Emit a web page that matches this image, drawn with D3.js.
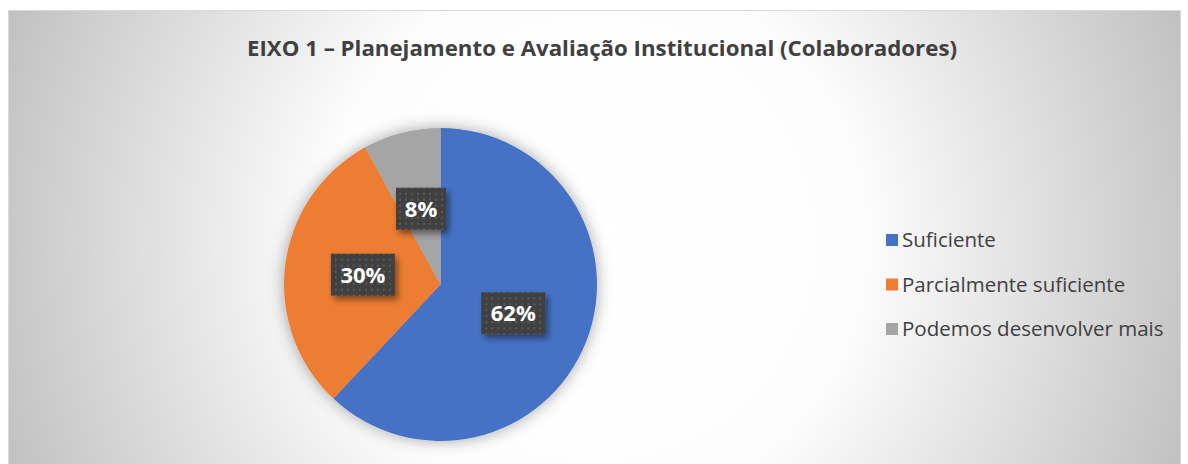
<!DOCTYPE html>
<html>
<head>
<meta charset="utf-8">
<script src="https://cdn.jsdelivr.net/npm/d3@7"></script>
<style>
  body { margin: 0; background: #fff; }
  svg { display: block; }
</style>
</head>
<body>
<div id="chart"></div>
<script>
// data
var title = "EIXO 1 – Planejamento e Avaliação Institucional (Colaboradores)";
var categories = ["Suficiente", "Parcialmente suficiente", "Podemos desenvolver mais"];
var values = [62, 30, 8];

var svgWidth = 1188;
var svgHeight = 464;

var color = d3.scaleOrdinal()
  .domain(categories)
  .range(["#4472C4", "#ED7D31", "#A5A5A5"]);

var svg = d3.select("#chart")
  .append("svg")
  .attr("width", svgWidth)
  .attr("height", svgHeight);

var defs = svg.append("defs");

// background gradient
var grad = defs.append("radialGradient")
  .attr("id", "bg")
  .attr("gradientUnits", "userSpaceOnUse")
  .attr("cx", 594).attr("cy", 240).attr("r", 640);
grad.append("stop").attr("offset", 0).attr("stop-color", "#ffffff");
grad.append("stop").attr("offset", 0.42).attr("stop-color", "#fdfdfd");
grad.append("stop").attr("offset", 1).attr("stop-color", "#bfbfbf");

// pie shadow
var pieShadow = defs.append("filter").attr("id", "pieShadow")
  .attr("x", "-20%").attr("y", "-20%").attr("width", "140%").attr("height", "140%");
pieShadow.append("feGaussianBlur").attr("in", "SourceAlpha").attr("stdDeviation", 8).attr("result", "b");
pieShadow.append("feFlood").attr("flood-color", "#000").attr("flood-opacity", 0.35).attr("result", "c");
pieShadow.append("feComposite").attr("in", "c").attr("in2", "b").attr("operator", "in").attr("result", "s");
var m1 = pieShadow.append("feMerge");
m1.append("feMergeNode").attr("in", "s");
m1.append("feMergeNode").attr("in", "SourceGraphic");

// label shadow
var lblShadow = defs.append("filter").attr("id", "lblShadow")
  .attr("x", "-30%").attr("y", "-30%").attr("width", "160%").attr("height", "160%");
lblShadow.append("feGaussianBlur").attr("in", "SourceAlpha").attr("stdDeviation", 3).attr("result", "b");
lblShadow.append("feOffset").attr("in", "b").attr("dx", 3).attr("dy", 4).attr("result", "o");
lblShadow.append("feFlood").attr("flood-color", "#000").attr("flood-opacity", 0.45).attr("result", "c");
lblShadow.append("feComposite").attr("in", "c").attr("in2", "o").attr("operator", "in").attr("result", "s");
var m2 = lblShadow.append("feMerge");
m2.append("feMergeNode").attr("in", "s");
m2.append("feMergeNode").attr("in", "SourceGraphic");

// dotted pattern for label boxes
var pat = defs.append("pattern")
  .attr("id", "dots")
  .attr("patternUnits", "userSpaceOnUse")
  .attr("width", 6).attr("height", 6);
pat.append("rect").attr("width", 6).attr("height", 6).attr("fill", "#404040");
pat.append("rect").attr("x", 2).attr("y", 2).attr("width", 2).attr("height", 2).attr("fill", "#5a5a5a");

// chart area
svg.append("rect")
  .attr("x", 8.5).attr("y", 10.5)
  .attr("width", 1172).attr("height", 470)
  .attr("fill", "url(#bg)")
  .attr("stroke", "#d9d9d9")
  .attr("stroke-width", 1);

// title
svg.append("text")
  .attr("x", 602)
  .attr("y", 56)
  .attr("text-anchor", "middle")
  .style("font-family", "'Open Sans', sans-serif")
  .style("font-weight", "bold")
  .style("font-size", "22px")
  .style("fill", "#404040")
  .attr("textLength", 710)
  .attr("lengthAdjust", "spacingAndGlyphs")
  .text(title);

// pie
var cx = 440.5, cy = 284.5, radius = 156.5;

var pie = d3.pie().sort(null).value(d => d);
var arcs = pie(values);
var arc = d3.arc().innerRadius(0).outerRadius(radius);

var pieGroup = svg.append("g")
  .attr("transform", `translate(${cx}, ${cy})`);

pieGroup.append("g")
  .attr("filter", "url(#pieShadow)")
  .selectAll("path")
  .data(arcs)
  .enter()
  .append("path")
  .attr("d", arc)
  .attr("fill", (d, i) => color(categories[i]));

// data labels
var labelGroup = pieGroup.selectAll(".lbl")
  .data(arcs)
  .enter()
  .append("g")
  .attr("class", "lbl")
  .attr("transform", d => `translate(${arc.centroid(d)})`);

labelGroup.append("rect")
  .attr("x", d => d.data < 10 ? -25 : -32)
  .attr("y", -21)
  .attr("width", d => d.data < 10 ? 50 : 64)
  .attr("height", 42)
  .attr("fill", "url(#dots)")
  .attr("filter", "url(#lblShadow)");

labelGroup.append("text")
  .attr("text-anchor", "middle")
  .attr("y", 8)
  .style("font-family", "'Open Sans', sans-serif")
  .style("font-weight", "bold")
  .style("font-size", "22px")
  .style("fill", "#ffffff")
  .text(d => d.data + "%");

// legend
var legend = svg.append("g");
var legendY = d3.scalePoint()
  .domain(categories)
  .range([240, 329]);

var item = legend.selectAll("g")
  .data(categories)
  .enter()
  .append("g")
  .attr("transform", d => `translate(886, ${legendY(d)})`);

item.append("rect")
  .attr("x", 0).attr("y", -6)
  .attr("width", 12).attr("height", 12)
  .attr("fill", d => color(d));

item.append("text")
  .attr("x", 16)
  .attr("y", 7)
  .style("font-family", "'Open Sans', sans-serif")
  .style("font-size", "20.5px")
  .style("fill", "#404040")
  .text(d => d);
</script>
</body>
</html>
